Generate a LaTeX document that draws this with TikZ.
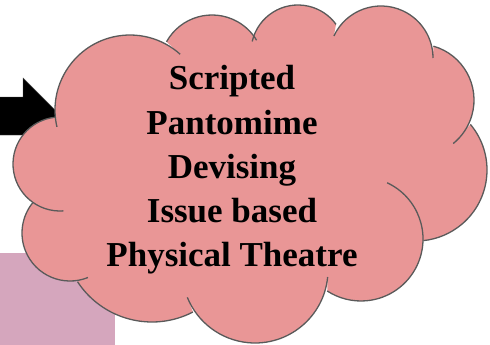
\documentclass[tikz,border=0pt]{standalone}
\usepackage{fontspec}
\setmainfont{Liberation Serif}
\usetikzlibrary{calc}
\definecolor{cloudpink}{RGB}{233,150,150}
\definecolor{cloudline}{RGB}{90,90,90}
\definecolor{mauve}{RGB}{213,166,189}
\tikzset{
    cloudbody/.style={fill=cloudpink},
    lobe/.style={draw=cloudline,line width=1.3pt},
    blockarrow/.style={fill=black,draw=black!70},
    genre/.style={align=center,font=\bfseries\fontsize{35}{44.25}\selectfont},
  }
% centre x / centre y / radius / start / end of each puff
\def\puffs{60/164/47/86/264, 130/110/75/167/312, 212/67/52/209/329,
  298/52/47/193/324, 381/58/52/205/360, 418/100/56/286/411,
  416/170/71/320/444, 361/239/62/295/483, 255/270/73/5.5/158,
  152/233/89/62.6/146.8, 70/233/48/68/219}

\begin{document}
\begin{tikzpicture}[x=1pt,y=-1pt]
  \useasboundingbox (0,0) rectangle (490,345);
  %fond
  \fill[mauve] (0,253) rectangle (115,350);
  %fleche
  \coordinate (T) at (61,116);
  \draw[blockarrow] (-5,97) -- (23,97) -- (23,78) -- (T) -- (23,154) -- (23,135) -- (-5,135) -- cycle;
  %nuage
  \fill[cloudbody] ([shift={(60,164)}]86:47)
    \foreach \cx/\cy/\r/\a/\b in \puffs {
      -- ([shift={(\cx,\cy)}]\a:\r) arc[start angle=\a,end angle=\b,radius=\r]
    } -- cycle;
  \foreach \cx/\cy/\r/\a/\b in \puffs
    \draw[lobe] ([shift={(\cx,\cy)}]\a:\r) arc[start angle=\a,end angle=\b,radius=\r];
  \node[genre] (G) at (232,170) {Scripted\\Pantomime\\Devising\\Issue based\\Physical Theatre};
\end{tikzpicture}
\end{document}
